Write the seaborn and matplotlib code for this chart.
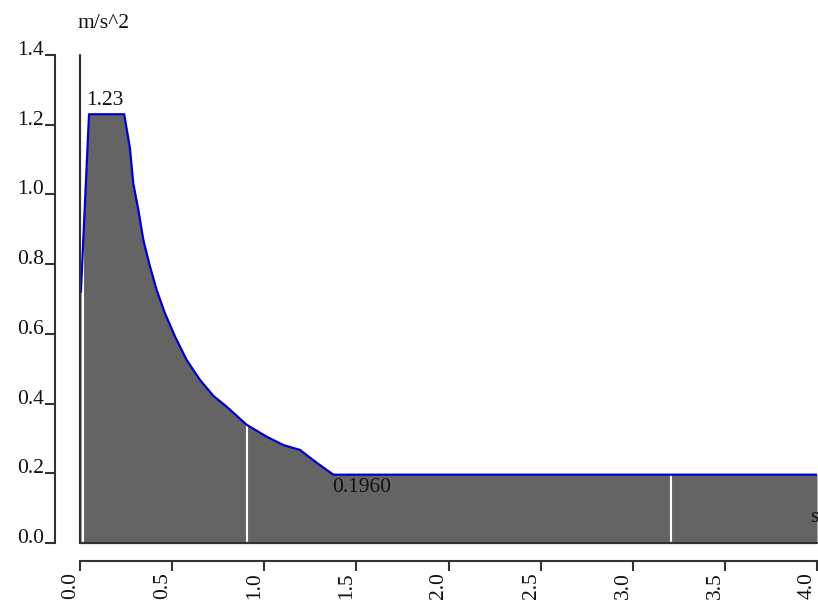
import numpy as np
import matplotlib
matplotlib.use("Agg")
import matplotlib.pyplot as plt
import seaborn as sns

# response spectrum
period = [0.005, 0.049, 0.240, 0.271, 0.289, 0.317, 0.344, 0.380, 0.416,
          0.461, 0.516, 0.579, 0.651, 0.724, 0.796, 0.905, 1.013, 1.104,
          1.194, 1.285, 1.375, 4.0]
accel = [0.72, 1.23, 1.23, 1.133, 1.032, 0.955, 0.869, 0.793, 0.726,
         0.659, 0.592, 0.525, 0.468, 0.422, 0.391, 0.339, 0.305, 0.281,
         0.267, 0.230, 0.196, 0.196]
marker_periods = [0.018, 0.906, 3.21]

x_ticks = [0.0, 0.5, 1.0, 1.5, 2.0, 2.5, 3.0, 3.5, 4.0]
y_ticks = [0.0, 0.2, 0.4, 0.6, 0.8, 1.0, 1.2, 1.4]
peak_label = "1.23"
tail_label = "0.1960"
y_unit = "m/s^2"
x_unit = "s"

sns.set_theme(style="ticks")
plt.rcParams["font.family"] = ["Liberation Serif", "DejaVu Serif"]

dark = "#333333"
fs = 15.5
fig = plt.figure(figsize=(8.18, 6.03), dpi=100)
ax = fig.add_axes([80 / 818, 60 / 603, 737 / 818, 488 / 603])

ax.fill_between(period, accel, color="#646464", lw=0, zorder=1)
ax.vlines(marker_periods, 0, np.interp(marker_periods, period, accel),
          color="white", lw=1.5, zorder=2)
sns.lineplot(x=period, y=accel, color="#0000cc", lw=1.6, ax=ax, zorder=3)

# inner frame lines
ax.axvline(0, color=dark, lw=1.6, clip_on=False, zorder=4)
ax.axhline(0, color=dark, lw=1.6, clip_on=False, zorder=4)

ax.set_xlim(0, 4)
ax.set_ylim(0, 1.4)
ax.set_xticks(x_ticks, labels=[f"{v:.1f}" for v in x_ticks])
ax.set_yticks(y_ticks, labels=[f"{v:.1f}" for v in y_ticks])

for side in ["top", "right"]:
    ax.spines[side].set_visible(False)
ax.spines["left"].set_position(("outward", 18))
ax.spines["bottom"].set_position(("outward", 13))
for side in ["left", "bottom"]:
    ax.spines[side].set_color(dark)
    ax.spines[side].set_linewidth(1.5)

ax.tick_params(direction="out", length=7, width=1.5, color=dark,
               labelsize=fs, labelcolor="#111111", pad=1)
ax.set_xlabel("")
ax.set_ylabel("")
plt.setp(ax.get_xticklabels(), rotation=90, ha="right", va="top")
plt.setp(ax.get_yticklabels(), va="baseline")

ax.text(-0.016, 1.49, y_unit, ha="left", va="center", fontsize=fs,
        color="#111111", clip_on=False)
ax.text(0.136, 1.27, peak_label, ha="center", va="center", fontsize=fs,
        color="#111111")
ax.text(1.366, 0.158, tail_label, ha="left", va="center", fontsize=fs,
        color="#111111")
ax.text(3.96, 0.072, x_unit, ha="left", va="center", fontsize=fs,
        color="#111111", clip_on=False)

fig.savefig("out.png", dpi=100)
plt.close(fig)
